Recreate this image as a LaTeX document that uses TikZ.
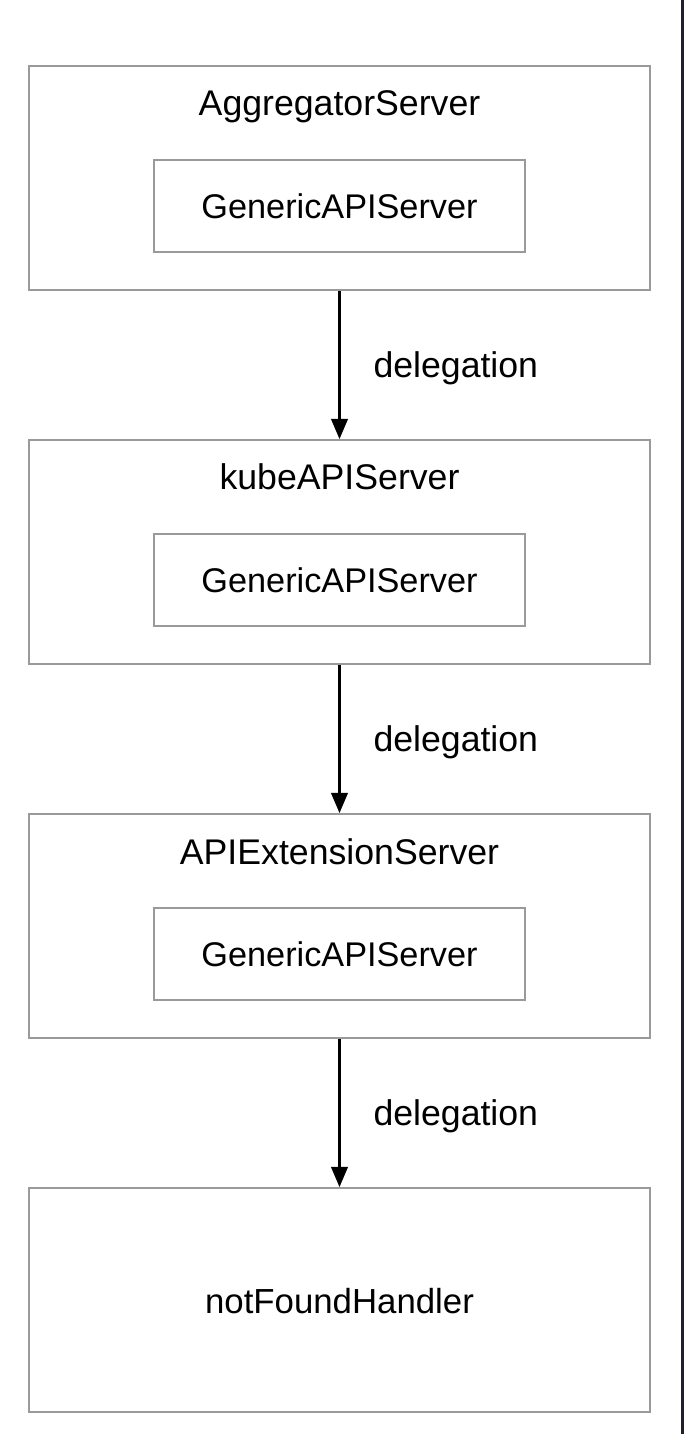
\documentclass[tikz,border=0pt]{standalone}
\usepackage{fontspec}
\setmainfont{Liberation Sans}
\usetikzlibrary{arrows.meta,positioning}

\definecolor{boxgray}{HTML}{9A9A9A}
\definecolor{edgedark}{HTML}{1E2030}

\begin{document}
\begin{tikzpicture}[
    x=0.02cm, y=-0.02cm,
    outer/.style={draw=boxgray, line width=1.1pt, minimum width=12.42cm, minimum height=4.48cm, inner sep=0pt},
    inner/.style={draw=boxgray, line width=1.1pt, minimum width=7.42cm, minimum height=1.84cm, font=\fontsize{19.5}{22}\selectfont},
    ttl/.style={font=\fontsize{20.3}{23}\selectfont, inner sep=0pt, anchor=base},
    arr/.style={-{Triangle[length=11.5pt, width=9.5pt]}, line width=1.15pt, black},
    lbl/.style={font=\fontsize{20.3}{23}\selectfont, anchor=base west, inner sep=0pt, shift={(33,12.5)}}
]
\useasboundingbox (0,0) rectangle (684,1434);
\fill[white] (0,0) rectangle (684,1434);
\fill[edgedark] (681,0) rectangle (684,1434);

\node[outer] (agg) at (339.5,178) {};
\node[ttl] (aggT) at (339.5,115) {AggregatorServer};
\node[inner] (aggG) at (339.5,206) {GenericAPIServer};

\node[outer] (kube) at (339.5,552) {};
\node[ttl] (kubeT) at (339.5,489) {kubeAPIServer};
\node[inner] (kubeG) at (339.5,580) {GenericAPIServer};

\node[outer] (ext) at (339.5,926) {};
\node[ttl] (extT) at (339.5,864) {APIExtensionServer};
\node[inner] (extG) at (339.5,954) {GenericAPIServer};

\node[outer] (nf) at (339.5,1300) {};
\node[ttl, font=\fontsize{19.8}{22}\selectfont] (nfT) at (339.5,1313) {notFoundHandler};

\draw[arr] (agg.south) -- node[lbl] {delegation} (kube.north);
\draw[arr] (kube.south) -- node[lbl] {delegation} (ext.north);
\draw[arr] (ext.south) -- node[lbl] {delegation} (nf.north);
\end{tikzpicture}
\end{document}
